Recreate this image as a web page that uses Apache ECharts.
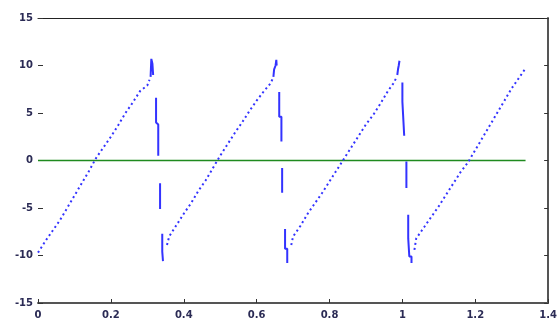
<!DOCTYPE html>
<html><head><meta charset="utf-8">
<script src="https://cdn.jsdelivr.net/npm/echarts@6/dist/echarts.min.js"></script>
<style>html,body{margin:0;padding:0;background:#fff}#c{width:560px;height:320px}</style>
</head><body><div id="c"></div>
<script>
// Rising ramps (null separates ramps)
const rampX = [0,0.02,0.04,0.06,0.08,0.10,0.12,0.14,0.16,0.18,0.20,0.22,0.24,0.26,0.28,0.30,0.306,null,
  0.354,0.360,0.38,0.40,0.42,0.44,0.46,0.48,0.50,0.52,0.54,0.56,0.58,0.60,0.62,0.638,0.644,null,
  0.695,0.700,0.72,0.74,0.76,0.78,0.80,0.82,0.84,0.86,0.88,0.90,0.92,0.94,0.96,0.975,0.982,null,
  1.033,1.038,1.06,1.08,1.10,1.12,1.14,1.16,1.18,1.20,1.22,1.24,1.26,1.28,1.30,1.32,1.338];
const rampY = [-9.7,-8.5,-7.4,-6.3,-5.0,-3.7,-2.4,-1.1,0.3,1.4,2.5,3.7,5.0,6.1,7.3,7.9,8.5,null,
  -8.9,-8.0,-6.8,-5.6,-4.5,-3.2,-2.1,-0.8,0.5,1.7,2.9,4.0,5.2,6.3,7.3,8.1,8.6,null,
  -8.9,-8.0,-6.9,-5.6,-4.5,-3.4,-2.2,-1.0,0.2,1.4,2.6,3.8,4.8,6.0,7.3,8.1,8.6,null,
  -9.4,-8.2,-7.0,-5.9,-4.8,-3.6,-2.4,-1.2,-0.2,1.1,2.4,3.7,5.0,6.3,7.6,8.7,9.7];
// Falling edges (null separates visible pieces)
const dropX = [0.309,0.311,0.314,0.316,null,0.324,0.324,0.330,0.330,null,0.335,0.335,null,0.341,0.341,0.343,0.343,null,
  0.646,0.648,0.652,0.654,0.655,null,0.662,0.662,0.668,0.668,null,0.670,0.670,null,0.678,0.678,0.684,0.684,null,
  0.986,0.988,0.990,0.992,null,1.000,1.000,1.005,1.005,null,1.011,1.011,null,1.016,1.016,1.019,1.019,1.025,1.025];
const dropY = [8.8,10.7,10.2,9.0,null,6.6,4.0,3.8,0.5,null,-2.4,-5.1,null,-7.7,-9.6,-9.6,-10.6,null,
  8.8,9.6,10.0,10.6,10.0,null,7.2,4.6,4.6,2.0,null,-0.8,-3.4,null,-7.2,-9.3,-9.3,-10.8,null,
  9.0,9.6,10.0,10.5,null,8.2,6.2,6.2,2.6,null,-0.1,-2.9,null,-5.7,-8.2,-8.2,-10.1,-10.1,-10.8];
// Green zero line
const zeroX = [0, 1.338];
const zeroY = [0, 0];
const xTicks = [0,0.2,0.4,0.6,0.8,1,1.2,1.4];
const yTicks = [-15,-10,-5,0,5,10,15];

const zip = (a,b) => a.map((v,i) => (v===null ? [null,null] : [v,b[i]]));
const lbl = {fontSize:10, fontWeight:'bold', fontFamily:'DejaVu Sans', color:'#2b2b55'};
const chart = echarts.init(document.getElementById('c'), null, {renderer:'canvas'});
chart.setOption({
  animation:false,
  grid:{left:38, right:5, top:18, bottom:12},
  xAxis:[
    {type:'value', position:'bottom', min:0, max:1.4, interval:0.2,
     axisLine:{show:true, onZero:false, lineStyle:{color:'#555', width:2}},
     axisTick:{show:true, inside:true, length:4, lineStyle:{color:'#333'}},
     axisLabel:{...lbl, margin:7, formatter:v=>String(+v.toFixed(1))}, splitLine:{show:false}},
    {type:'value', position:'top', min:0, max:1.4, interval:0.2,
     axisLine:{show:true, onZero:false, lineStyle:{color:'#222', width:1}},
     axisTick:{show:false}, axisLabel:{show:false}, splitLine:{show:false}}
  ],
  yAxis:[
    {type:'value', position:'left', min:-15, max:15, interval:5,
     axisLine:{show:false, onZero:false},
     axisTick:{show:true, inside:true, length:5, lineStyle:{color:'#333'}},
     axisLabel:{...lbl, margin:5}, splitLine:{show:false}},
    {type:'value', position:'right', min:-15, max:15, interval:5,
     axisLine:{show:true, onZero:false, lineStyle:{color:'#555', width:2}},
     axisTick:{show:true, inside:true, length:4, lineStyle:{color:'#333'}},
     axisLabel:{show:false}, splitLine:{show:false}}
  ],
  series:[
    {type:'line', data:zip(zeroX,zeroY), showSymbol:false, lineStyle:{color:'#1f8a1f', width:1.5}},
    {type:'line', data:zip(rampX,rampY), showSymbol:false, connectNulls:false,
     lineStyle:{color:'#3333ff', width:2, type:[2,3]}},
    {type:'line', data:zip(dropX,dropY), showSymbol:false, connectNulls:false,
     lineStyle:{color:'#3333ff', width:2}}
  ]
});
</script></body></html>
